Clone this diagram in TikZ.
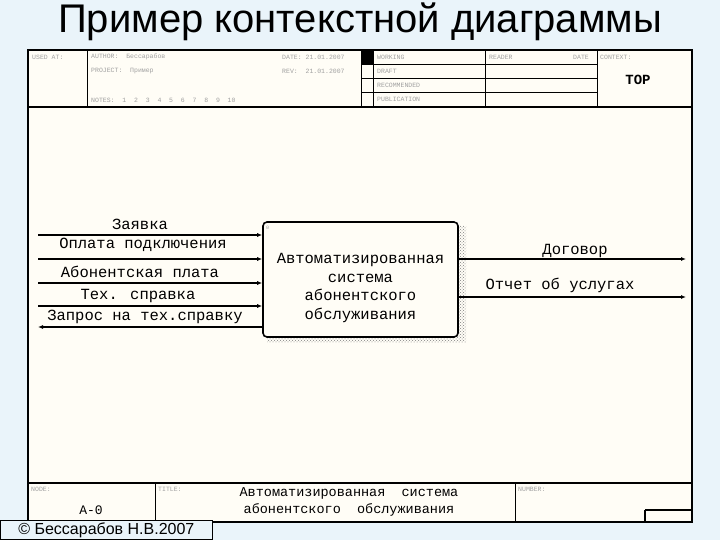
\documentclass[tikz,border=0pt]{standalone}
\usepackage{fontspec}
\setmainfont{Liberation Sans}
\newfontfamily\mono{Liberation Mono}
\usetikzlibrary{arrows.meta,patterns}
\definecolor{bg}{HTML}{EAF4FA}
\definecolor{paper}{HTML}{FFFDF6}
\definecolor{tiny}{HTML}{A0A0A0}
\tikzset{
  fl/.style={line width=1.1pt,-{Latex[length=5pt,width=4pt]}},
  lbl/.style={font=\mono\fontsize{15.5}{17}\selectfont,inner sep=0pt},
  sm/.style={font=\mono\fontsize{6.5}{7}\selectfont,text=tiny,inner sep=0pt,anchor=west},
  thick2/.style={line width=1.6pt}
}
\begin{document}
\begin{tikzpicture}[x=1pt,y=-1pt]
\fill[bg] (0,0) rectangle (720,540);
\useasboundingbox (0,0) rectangle (720,540);
\node[font=\fontsize{40}{44}\selectfont] (title) at (360,22) {Пример контекстной диаграммы};
% frame
\fill[paper] (28,50) rectangle (692,522);
\draw[thick2] (28,50) rectangle (692,522);
\draw[thick2] (28,107) -- (692,107);
\draw[line width=0.8pt] (87,50) -- (87,107) (361,50) -- (361,107) (373,50) -- (373,107)
  (485,50) -- (485,107) (597,50) -- (597,107);
\draw[line width=0.8pt] (361,64) -- (597,64) (361,78) -- (597,78) (361,92) -- (597,92);
\fill (361,50) rectangle (373,64);
\node[sm] (ua) at (32,57) {USED AT:};
\node[sm] (au) at (91,57) {AUTHOR:\ \ Бессарабов};
\node[sm] (pr) at (91,71) {PROJECT:\ \ Пример};
\node[sm] (nt) at (91,100) {NOTES:\ \ 1\ \ 2\ \ 3\ \ 4\ \ 5\ \ 6\ \ 7\ \ 8\ \ 9\ \ 10};
\node[sm] (dt) at (282,57) {DATE:\ 21.01.2007};
\node[sm] (rv) at (282,71) {REV:\ \ 21.01.2007};
\node[sm] (wk) at (377,57) {WORKING};
\node[sm] (dr) at (377,71) {DRAFT};
\node[sm] (rc) at (377,85) {RECOMMENDED};
\node[sm] (pb) at (377,99) {PUBLICATION};
\node[sm] (rd) at (489,57) {READER};
\node[sm] (da) at (573,57) {DATE};
\node[sm] (cx) at (600,57) {CONTEXT:};
\node[lbl,font=\mono\bfseries\fontsize{14}{15}\selectfont] (top) at (638,80) {TOP};
% footer
\draw[thick2] (28,483) -- (692,483);
\draw[line width=0.8pt] (155,483) -- (155,522) (515,483) -- (515,522);
\draw[thick2] (645,510) -- (692,510) (645,510) -- (645,522);
\node[sm] (nd) at (31,489) {NODE:};
\node[sm] (tt) at (158,489) {TITLE:};
\node[sm] (nb) at (518,489) {NUMBER:};
\node[lbl,font=\mono\fontsize{13}{14}\selectfont] (a0) at (91,510) {A-0};
\node[lbl,font=\mono\fontsize{13.5}{17}\selectfont,align=center] (ft) at (349,502) {Автоматизированная\ \ система\\абонентского\ \ обслуживания};
% box
\fill[pattern=crosshatch dots,pattern color=gray] (267,226) rectangle (466,342);
\node[draw,line width=1.6pt,rounded corners=4pt,fill=paper,minimum width=195pt,minimum height=115pt] (box) at (360.5,279.5) {};
\node[lbl,align=center,font=\mono\fontsize{15.5}{18.5}\selectfont] (boxtext) at (360.5,288)
  {Автоматизированная\\система\\абонентского\\обслуживания};
\node[sm,font=\mono\fontsize{5}{5}\selectfont] (n0) at (266,228) {0};
% inputs
\coordinate (i1) at (38,235); \coordinate (i2) at (38,259);
\coordinate (i3) at (38,283); \coordinate (i4) at (38,306); \coordinate (o0) at (38,327);
\draw[fl] (i1) -- (i1-|box.west);
\draw[fl] (i2) -- (i2-|box.west);
\draw[fl] (i3) -- (i3-|box.west);
\draw[fl] (i4) -- (i4-|box.west);
\draw[fl] (o0-|box.west) -- (o0);
\node[lbl] (l1) at (140,224) {Заявка};
\node[lbl] (l2) at (143,245) {Оплата подключения};
\node[lbl] (l3) at (140,272) {Абонентская плата};
\node[lbl] (l4) at (138,296) {Тех. справка};
\node[lbl] (l5) at (145,317) {Запрос на тех.справку};
% outputs
\coordinate (e1) at (686,259); \coordinate (e2) at (686,297);
\draw[fl] (e1-|box.east) -- (e1);
\draw[fl] (e2-|box.east) -- (e2);
\node[lbl] (r1) at (575,251) {Договор};
\node[lbl] (r2) at (560,285) {Отчет об услугах};
% copyright
\node[draw,fill=bg,line width=0.8pt,anchor=south west,inner sep=2pt,minimum height=18pt,minimum width=212pt,
  font=\fontsize{16}{18}\selectfont] (cp) at (0,540) {© Бессарабов Н.В.2007};
\end{tikzpicture}
\end{document}
